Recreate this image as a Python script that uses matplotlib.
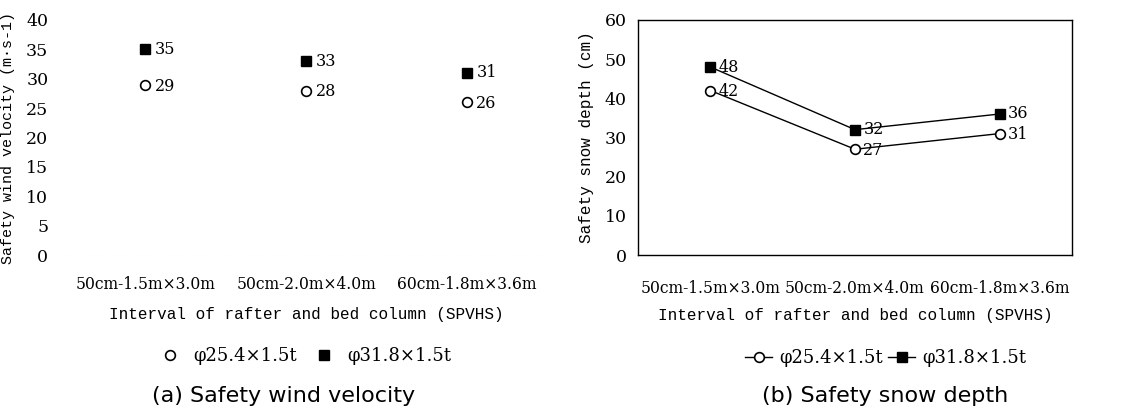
import matplotlib.pyplot as plt

# Kategorien und Werte
categories = ["50cm-1.5m×3.0m", "50cm-2.0m×4.0m", "60cm-1.8m×3.6m"]
series_names = ["φ25.4×1.5t", "φ31.8×1.5t"]
wind_small = [29, 28, 26]
wind_large = [35, 33, 31]
snow_small = [42, 27, 31]
snow_large = [48, 32, 36]

plt.rcParams['font.family'] = ['DejaVu Serif']
plt.rcParams['font.size'] = 11

mono = ['Liberation Mono', 'DejaVu Sans Mono']

fig = plt.figure(figsize=(11.36, 4.16), dpi=100)
W, H = 1136, 416
ax1 = fig.add_axes([65 / W, 1 - 255 / H, (547 - 65) / W, (255 - 20) / H])
ax2 = fig.add_axes([638 / W, 1 - 255 / H, (1072 - 638) / W, (255 - 20) / H])

x = range(len(categories))

# (a) Windgeschwindigkeit - nur Punkte, kein Rahmen
ax1.axhline(0, color='#d8d8d8', lw=0.8, ls=':')
ax1.plot(x, wind_small, linestyle='none', marker='o', ms=7, mfc='white', mec='black', mew=1.2,
         label=series_names[0])
ax1.plot(x, wind_large, linestyle='none', marker='s', ms=7, color='black', label=series_names[1])
for i in x:
    ax1.annotate(str(wind_small[i]), (i, wind_small[i]), xytext=(7, -1), textcoords='offset points',
                 va='center', fontsize=11.5)
    ax1.annotate(str(wind_large[i]), (i, wind_large[i]), xytext=(7, 0), textcoords='offset points',
                 va='center', fontsize=11.5)
ax1.set_xlim(-0.5, 2.5)
ax1.set_ylim(0, 40)
ax1.set_yticks(range(0, 41, 5))
ax1.set_xticks(list(x))
ax1.set_xticklabels(categories)
for s in ax1.spines.values():
    s.set_visible(False)
ax1.tick_params(length=0, labelsize=11.2, pad=15)
ax1.tick_params(axis='y', labelsize=12.5, pad=12)
ax1.set_ylabel("Safety wind velocity (m·s-1)", fontsize=10.8, family=mono, labelpad=8)
ax1.set_xlabel("Interval of rafter and bed column (SPVHS)", fontsize=11.5, family=mono, labelpad=10)
ax1.legend(loc='center', bbox_to_anchor=(0.5, -0.43), ncol=2, frameon=False, fontsize=13,
           handlelength=1.0, columnspacing=1.0, handletextpad=0.8)
ax1.text(0.453, -0.6, "(a) Safety wind velocity", transform=ax1.transAxes, ha='center',
         va='center', fontsize=16, family='DejaVu Sans')

# (b) Schneehoehe - Linien mit Markern
ax2.plot(x, snow_small, marker='o', ms=7, mfc='white', mec='black', mew=1.2, color='black',
         lw=1, label=series_names[0])
ax2.plot(x, snow_large, marker='s', ms=7, color='black', lw=1, label=series_names[1])
for i in x:
    ax2.annotate(str(snow_small[i]), (i, snow_small[i]), xytext=(6, -1), textcoords='offset points',
                 va='center', fontsize=11.5)
    ax2.annotate(str(snow_large[i]), (i, snow_large[i]), xytext=(6, 0), textcoords='offset points',
                 va='center', fontsize=11.5)
ax2.set_xlim(-0.5, 2.5)
ax2.set_ylim(0, 60)
ax2.set_yticks(range(0, 61, 10))
ax2.set_xticks(list(x))
ax2.set_xticklabels(categories)
for s in ax2.spines.values():
    s.set_linewidth(1)
ax2.tick_params(length=0, labelsize=11.2, pad=18)
ax2.tick_params(axis='y', labelsize=12.5, pad=8)
ax2.set_ylabel("Safety snow depth (cm)", fontsize=11.5, family=mono, labelpad=8)
ax2.set_xlabel("Interval of rafter and bed column (SPVHS)", fontsize=11.5, family=mono, labelpad=8)
ax2.legend(loc='center', bbox_to_anchor=(0.571, -0.44), ncol=2, frameon=False, fontsize=13,
           handlelength=1.5, columnspacing=0.3, handletextpad=0.4)
ax2.text(0.569, -0.6, "(b) Safety snow depth", transform=ax2.transAxes, ha='center',
         va='center', fontsize=16, family='DejaVu Sans')

fig.savefig("out.png", dpi=100)
